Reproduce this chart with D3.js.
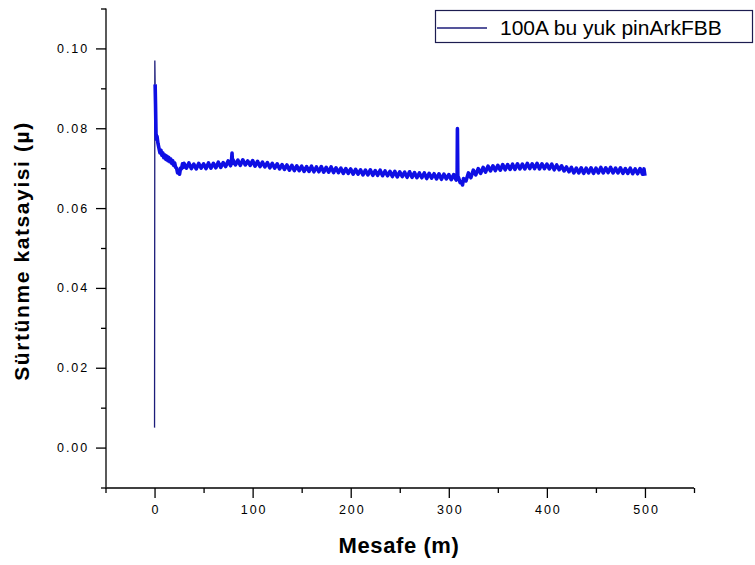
<!DOCTYPE html>
<html>
<head>
<meta charset="utf-8">
<script src="https://cdn.jsdelivr.net/npm/d3@7"></script>
<style>
  body { margin: 0; background: #fff; }
  svg { display: block; }
  text { font-family: "Liberation Sans", Arial, sans-serif; fill: #000; }
</style>
</head>
<body>
<svg id="chart" width="755" height="565"></svg>
<script>
// ---- data ----
const distance = [
  0, 0.3, 0.6, 1.0, 1.5, 2.0, 2.5, 3.5, 4.5, 5.5, 6.5, 7.5, 8.5, 9.5, 10.5, 11.5, 12.5, 13.5, 14.5, 15.5, 16.5, 17.5, 18.5, 19.5, 20.5, 21.5, 22.5, 23.5, 24.5, 25.5, 26.5, 27.5, 28.5, 29.5,
  30, 32.5, 35, 37.5, 40, 42.5, 45, 47.5, 50, 52.5, 55, 57.5, 60, 62.5, 65, 67.5, 70, 72.5, 75, 77.5, 78.5, 79, 79.5,
  80, 82.5, 85, 87.5, 90, 92.5, 95, 97.5, 100, 102.5, 105, 107.5, 110, 112.5, 115, 117.5, 120, 122.5, 125, 127.5,
  130, 132.5, 135, 137.5, 140, 142.5, 145, 147.5, 150, 152.5, 155, 157.5, 160, 162.5, 165, 167.5, 170, 172.5, 175, 177.5,
  180, 182.5, 185, 187.5, 190, 192.5, 195, 197.5, 200, 202.5, 205, 207.5, 210, 212.5, 215, 217.5, 220, 222.5, 225, 227.5,
  230, 232.5, 235, 237.5, 240, 242.5, 245, 247.5, 250, 252.5, 255, 257.5, 260, 262.5, 265, 267.5, 270, 272.5, 275, 277.5,
  280, 282.5, 285, 287.5, 290, 292.5, 295, 297.5, 300, 302.5, 305, 307.5, 308.5, 308.8, 309.2, 310, 311.5, 313, 314,
  315, 317.5, 320, 322.5, 325, 327.5, 330, 332.5, 335, 337.5, 340, 342.5, 345, 347.5, 350, 352.5, 355, 357.5, 360, 362.5,
  365, 367.5, 370, 372.5, 375, 377.5, 380, 382.5, 385, 387.5, 390, 392.5, 395, 397.5, 400, 402.5, 405, 407.5, 410, 412.5,
  415, 417.5, 420, 422.5, 425, 427.5, 430, 432.5, 435, 437.5, 440, 442.5, 445, 447.5, 450, 452.5, 455, 457.5, 460, 462.5,
  465, 467.5, 470, 472.5, 475, 477.5, 480, 482.5, 485, 487.5, 490, 492.5, 495, 497.5, 499, 500
];
const friction = [
  0.005, 0.097, 0.091, 0.086, 0.0785, 0.0772, 0.0780, 0.0762, 0.0750, 0.0738, 0.0745, 0.0732, 0.0738, 0.0726, 0.0733, 0.0722, 0.0730, 0.0719, 0.0727, 0.0716, 0.0723, 0.0712, 0.0719, 0.0707, 0.0713, 0.0702, 0.0700, 0.0688, 0.0694, 0.0685, 0.0700, 0.0699, 0.0711, 0.0702,
  0.0712, 0.0700, 0.0713, 0.0699, 0.0710, 0.0698, 0.0712, 0.0700, 0.0711, 0.0699, 0.0713, 0.0700, 0.0712, 0.0701, 0.0715, 0.0702, 0.0714, 0.0704, 0.0718, 0.0706, 0.0720, 0.0738, 0.0712,
  0.0721, 0.0708, 0.0720, 0.0707, 0.0721, 0.0708, 0.0718, 0.0707, 0.0719, 0.0705, 0.0717, 0.0704, 0.0715, 0.0703, 0.0714, 0.0701, 0.0712, 0.0700, 0.0711, 0.0698,
  0.0709, 0.0697, 0.0708, 0.0695, 0.0707, 0.0694, 0.0706, 0.0694, 0.0705, 0.0692, 0.0704, 0.0692, 0.0705, 0.0691, 0.0703, 0.0691, 0.0704, 0.0690, 0.0702, 0.0690,
  0.0703, 0.0689, 0.0701, 0.0689, 0.0700, 0.0687, 0.0699, 0.0687, 0.0698, 0.0685, 0.0697, 0.0685, 0.0696, 0.0683, 0.0695, 0.0683, 0.0696, 0.0682, 0.0694, 0.0682,
  0.0695, 0.0681, 0.0693, 0.0681, 0.0692, 0.0679, 0.0692, 0.0678, 0.0691, 0.0679, 0.0690, 0.0677, 0.0691, 0.0677, 0.0689, 0.0676, 0.0688, 0.0676, 0.0688, 0.0674,
  0.0687, 0.0675, 0.0686, 0.0673, 0.0686, 0.0672, 0.0685, 0.0673, 0.0684, 0.0671, 0.0684, 0.0670, 0.0680, 0.0799, 0.0680, 0.0676, 0.0664, 0.0666, 0.0658,
  0.0674, 0.0668, 0.0688, 0.0676, 0.0695, 0.0683, 0.0699, 0.0687, 0.0702, 0.0690, 0.0705, 0.0693, 0.0706, 0.0694, 0.0707, 0.0695, 0.0709, 0.0696, 0.0709, 0.0697,
  0.0710, 0.0697, 0.0711, 0.0698, 0.0710, 0.0698, 0.0712, 0.0699, 0.0711, 0.0699, 0.0712, 0.0698, 0.0711, 0.0699, 0.0710, 0.0698, 0.0710, 0.0696, 0.0708, 0.0696,
  0.0706, 0.0693, 0.0703, 0.0691, 0.0702, 0.0688, 0.0700, 0.0688, 0.0701, 0.0687, 0.0700, 0.0688, 0.0701, 0.0687, 0.0700, 0.0688, 0.0702, 0.0688, 0.0701, 0.0689,
  0.0702, 0.0688, 0.0700, 0.0688, 0.0701, 0.0687, 0.0699, 0.0687, 0.0700, 0.0686, 0.0698, 0.0686, 0.0699, 0.0685, 0.0698, 0.0681
];
const xTicks = [0, 100, 200, 300, 400, 500];
const yTicks = [0.00, 0.02, 0.04, 0.06, 0.08, 0.10];
const xMinorTicks = [-50, 50, 150, 250, 350, 450, 550];
const yMinorTicks = [-0.01, 0.01, 0.03, 0.05, 0.07, 0.09, 0.11];
const seriesName = "100A bu yuk pinArkFBB";
const xTitle = "Mesafe (m)";
const yTitle = "Sürtünme katsayisi (µ)";

// ---- scales ----
const svg = d3.select("#chart");
const x = d3.scaleLinear().domain([-50, 550]).range([105.5, 694]);
const y = d3.scaleLinear().domain([-0.01, 0.11]).range([487.5, 8.5]);
const axisX = 488, axisY = 106;

const pts = distance.map((d, i) => ({ d, f: friction[i] }));
const line = d3.line().x(p => x(p.d)).y(p => y(p.f));

// thin initial spike
svg.append("path")
  .attr("d", line(pts.slice(0, 3)))
  .attr("fill", "none").attr("stroke", "#1c1c7a").attr("stroke-width", 1.3);

// main noisy trace
svg.append("path")
  .attr("d", line(pts.slice(2)))
  .attr("fill", "none").attr("stroke", "#0f0fe4").attr("stroke-width", 3.6)
  .attr("stroke-linejoin", "round");

// ---- axes ----
const gx = svg.append("g").attr("transform", `translate(0,${axisX})`)
  .call(d3.axisBottom(x).tickValues(xTicks).tickSize(10).tickPadding(7).tickFormat(d3.format("d")));
gx.append("g").call(d3.axisBottom(x).tickValues(xMinorTicks).tickSize(5).tickFormat(""));

const gy = svg.append("g").attr("transform", `translate(${axisY},0)`)
  .call(d3.axisLeft(y).tickValues(yTicks).tickSize(10).tickPadding(7).tickFormat(d3.format(".2f")));
gy.append("g").call(d3.axisLeft(y).tickValues(yMinorTicks).tickSize(5).tickFormat(""));

svg.selectAll(".domain").attr("stroke", "#000").attr("stroke-width", 1.3);
svg.selectAll(".tick line").attr("stroke", "#000").attr("stroke-width", 1.3);
svg.selectAll(".tick text")
  .style("font-family", "'Liberation Sans', Arial, sans-serif")
  .style("font-size", "12.5px").style("letter-spacing", "1.9px").attr("fill", "#000");
gx.selectAll(".tick text").attr("dx", "1px");

gx.select(".domain").attr("d", `M${x(-50)},0H${x(550)}`);
gy.select(".domain").attr("d", `M0,${y(-0.01)}V${y(0.11)}`);
gx.selectAll("g > .domain").filter((d, i, n) => n[i].parentNode !== gx.node()).remove();
gy.selectAll("g > .domain").filter((d, i, n) => n[i].parentNode !== gy.node()).remove();

// ---- titles ----
svg.append("text")
  .attr("x", 399).attr("y", 553)
  .attr("text-anchor", "middle")
  .style("font-weight", "bold").style("font-size", "22px").style("letter-spacing", "0.6px")
  .text(xTitle);

svg.append("text")
  .attr("transform", "translate(29,251) rotate(-90)")
  .attr("text-anchor", "middle")
  .style("font-weight", "bold").style("font-size", "21px").style("letter-spacing", "1.6px")
  .text(yTitle);

// ---- legend ----
const lg = svg.append("g");
lg.append("rect").attr("x", 435.5).attr("y", 10.5).attr("width", 317).attr("height", 32)
  .attr("fill", "#fff").attr("stroke", "#1c1c50").attr("stroke-width", 1.2);
lg.append("line").attr("x1", 437).attr("x2", 487).attr("y1", 28).attr("y2", 28)
  .attr("stroke", "#1c1c7a").attr("stroke-width", 1.3);
lg.append("text").attr("x", 500).attr("y", 35)
  .style("font-size", "21px").text(seriesName);
</script>
</body>
</html>
